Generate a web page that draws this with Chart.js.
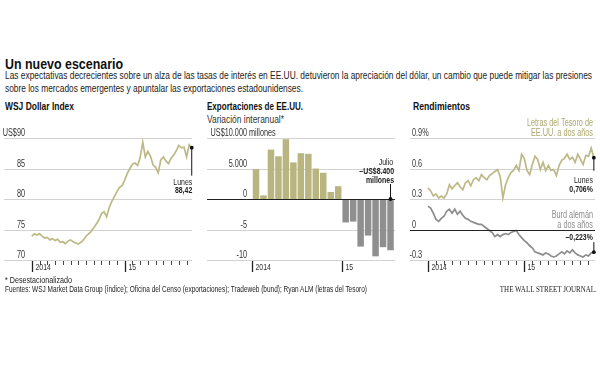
<!DOCTYPE html>
<html>
<head>
<meta charset="utf-8">
<script src="https://cdn.jsdelivr.net/npm/chart.js@4.4.1/dist/chart.umd.min.js"></script>
<style>
  body { margin: 0; width: 600px; height: 370px; position: relative; overflow: hidden; background: #fff;
         font-family: 'Liberation Sans Narrow', 'Liberation Sans', Arial, sans-serif; color: #222; }
  .t { position: absolute; white-space: nowrap; line-height: 1; transform-origin: left top; }
  #title { left: 5px; top: 56px; font-size: 15.5px; font-weight: bold; color: #111; }
  .sub { left: 5px; font-size: 10px; color: #222; }
  .ptitle { font-size: 11.5px; font-weight: bold; color: #111; top: 101px; }
  .note { left: 5px; font-size: 9px; color: #222; }
  #wsj { right: 3px; top: 285px; font-family: 'Liberation Serif', 'DejaVu Serif', serif; font-size: 9px; color: #222; transform-origin: right top; }
  canvas { position: absolute; top: 115px; }
</style>
</head>
<body>
<div class="t" id="title" data-w="118">Un nuevo escenario</div>
<div class="t sub" id="sub1" style="top:71px" data-w="587">Las expectativas decrecientes sobre un alza de las tasas de interés en EE.UU. detuvieron la apreciación del dólar, un cambio que puede mitigar las presiones</div>
<div class="t sub" id="sub2" style="top:83.5px" data-w="298">sobre los mercados emergentes y apuntalar las exportaciones estadounidenses.</div>

<div class="t ptitle" style="left:5px" data-w="69">WSJ Dollar Index</div>
<div class="t ptitle" style="left:207px" data-w="96">Exportaciones de EE.UU.</div>
<div class="t" style="left:207px; top:114.5px; font-size:10px; color:#333" data-w="77">Variación interanual*</div>
<div class="t ptitle" style="left:413px" data-w="57">Rendimientos</div>

<canvas id="dollarChart" width="200" height="165" style="left:0px"></canvas>
<canvas id="exportChart" width="200" height="165" style="left:200px"></canvas>
<canvas id="yieldChart" width="200" height="165" style="left:400px"></canvas>

<div class="t note" style="top:276px" data-w="67">* Desestacionalizado</div>
<div class="t note" style="top:285px" data-w="362">Fuentes: WSJ Market Data Group (índice); Oficina del Censo (exportaciones); Tradeweb (bund); Ryan ALM (letras del Tesoro)</div>
<div class="t" id="wsj" data-w="97">THE WALL STREET JOURNAL.</div>

<script>
// ========== 数据 ==========
const dates = [
  '2014-01-01', '2014-01-11', '2014-01-21', '2014-02-01', '2014-02-11', '2014-02-21',
  '2014-03-01', '2014-03-11', '2014-03-21', '2014-04-01', '2014-04-11', '2014-04-21',
  '2014-05-01', '2014-05-11', '2014-05-21', '2014-06-01', '2014-06-11', '2014-06-21',
  '2014-07-01', '2014-07-11', '2014-07-21', '2014-08-01', '2014-08-11', '2014-08-21',
  '2014-09-01', '2014-09-11', '2014-09-21', '2014-10-01', '2014-10-11', '2014-10-21',
  '2014-11-01', '2014-11-11', '2014-11-21', '2014-12-01', '2014-12-11', '2014-12-21',
  '2015-01-01', '2015-01-11', '2015-01-21', '2015-02-01', '2015-02-11', '2015-02-21',
  '2015-03-01', '2015-03-11', '2015-03-21', '2015-04-01', '2015-04-11', '2015-04-21',
  '2015-05-01', '2015-05-11', '2015-05-21', '2015-06-01', '2015-06-11', '2015-06-21',
  '2015-07-01', '2015-07-11', '2015-07-21', '2015-08-01', '2015-08-11', '2015-08-21',
  '2015-09-01', '2015-09-11', '2015-09-21'
];

const dollarIndex = [
  73.9, 74.3, 74.1, 74.3, 73.9, 73.6, 73.7, 73.3, 73.5, 73.2, 73.4, 72.9,
  73.0, 72.7, 73.1, 73.3, 73.0, 72.8, 72.6, 72.9, 73.3, 73.9, 74.3, 74.7,
  75.3, 75.9, 76.6, 77.6, 77.9, 77.1, 78.6, 79.6, 80.4, 81.2, 81.9, 82.2,
  83.1, 84.2, 85.0, 85.7, 85.9, 85.5, 86.8, 89.3, 86.9, 87.8, 87.0, 85.6,
  85.2, 84.3, 86.4, 86.9, 86.2, 85.8, 86.7, 87.2, 87.9, 88.8, 88.4, 88.5,
  86.9, 88.9, 88.42
];

const exportMonths = [
  '2014-01', '2014-02', '2014-03', '2014-04', '2014-05', '2014-06', '2014-07', '2014-08',
  '2014-09', '2014-10', '2014-11', '2014-12', '2015-01', '2015-02', '2015-03', '2015-04',
  '2015-05', '2015-06', '2015-07'
];
const exportChange = [
  4900, 600, 8100, 7000, 9800, 6000, 7500, 7400, 5000, 4300, 1150, 2100,
  -3850, -3700, -7800, -6000, -9400, -7900, -8400
];

const treasury2y = [
  0.41, 0.38, 0.33, 0.35, 0.31, 0.33, 0.31, 0.35, 0.44, 0.40, 0.43, 0.46,
  0.42, 0.39, 0.46, 0.48, 0.43, 0.49, 0.51, 0.48, 0.54, 0.51, 0.49, 0.53,
  0.55, 0.57, 0.59, 0.52, 0.31, 0.44, 0.51, 0.56, 0.58, 0.63, 0.58, 0.74,
  0.70, 0.58, 0.54, 0.64, 0.72, 0.69, 0.59, 0.66, 0.58, 0.63, 0.58, 0.59,
  0.53, 0.63, 0.68, 0.70, 0.74, 0.69, 0.71, 0.66, 0.74, 0.69, 0.64, 0.73,
  0.72, 0.80, 0.706
];
const bund2y = [
  0.23, 0.21, 0.16, 0.10, 0.08, 0.11, 0.13, 0.18, 0.20, 0.16, 0.20, 0.15,
  0.18, 0.14, 0.11, 0.10, 0.08, 0.07, 0.06, 0.05, 0.05, 0.03, 0.01, -0.01,
  -0.03, -0.07, -0.05, -0.07, -0.05, -0.04, -0.05, -0.03, -0.02, -0.01, -0.05, -0.08,
  -0.11, -0.13, -0.16, -0.18, -0.22, -0.23, -0.24, -0.25, -0.23, -0.24, -0.26, -0.27,
  -0.26, -0.24, -0.22, -0.24, -0.21, -0.23, -0.20, -0.23, -0.25, -0.26, -0.27, -0.25,
  -0.26, -0.23, -0.223
];

// 刻度
const dollarTicks = [70, 75, 80, 85, 90];
const dollarTickLabels = ['70', '75', '80', '85', '90'];
const exportTicks = [-10000, -5000, 0, 5000, 10000];
const exportTickLabels = ['-10', '-5', '0', '5.000', '10.000'];
const yieldTicks = [-0.3, 0, 0.3, 0.6, 0.9];
const yieldTickLabels = ['-0.3', '0', '0.3', '0.6', '0.9'];
const yearTicks = [0, 12];
const yearTickLabels = ['2014', '15'];
const monthTicks = [1, 2, 3, 4, 5, 6, 7, 8, 9, 10, 11, 13, 14, 15, 16, 17, 18, 19, 20];

// ========== 样式 ==========
const FONT = "'Liberation Sans Narrow','Liberation Sans',Arial,sans-serif";
const OLIVE = '#bdb986';
const OLIVE_BAR = '#b9b580';
const OLIVE_TEXT = '#aca86e';
const GRAY = '#8d8d8d';
const GRAY_BAR = '#8f8f8f';
const GRID = '#d2d2d2';
const DARK = '#222';

// 文字横向压缩（原图为窄体字）
document.querySelectorAll('[data-w]').forEach(el => {
  const w = el.getBoundingClientRect().width;
  el.style.transform = 'scaleX(' + (Number(el.dataset.w) / w) + ')';
});
const probe = document.createElement('canvas').getContext('2d');
probe.font = '10px ' + FONT;
const K = 62 / probe.measureText('EE.UU. a dos años').width;

function toMonth(d) {
  const p = d.split('-').map(Number);
  return (p[0] - 2014) * 12 + (p[1] - 1) + ((p[2] || 1) - 1) / 30;
}
const monthPos = dates.map(toMonth);

function points(values) {
  return values.map((v, i) => ({ x: monthPos[i], y: v }));
}

function hline(ctx, x1, x2, y, color, w) {
  ctx.strokeStyle = color;
  ctx.lineWidth = w;
  ctx.beginPath();
  ctx.moveTo(x1, y);
  ctx.lineTo(x2, y);
  ctx.stroke();
}
function vline(ctx, x, y1, y2, color, w) {
  ctx.strokeStyle = color;
  ctx.lineWidth = w;
  ctx.beginPath();
  ctx.moveTo(x, y1);
  ctx.lineTo(x, y2);
  ctx.stroke();
}
function dot(ctx, x, y) {
  ctx.fillStyle = '#111';
  ctx.beginPath();
  ctx.arc(x, y, 1.9, 0, Math.PI * 2);
  ctx.fill();
}
function setFont(ctx, bold, size) {
  ctx.font = (bold ? 'bold ' : '') + size + 'px ' + FONT;
}
function textWidth(ctx, s, bold, size) {
  setFont(ctx, bold, size);
  return ctx.measureText(s).width * K;
}
function text(ctx, s, x, y, align, color, bold, size) {
  ctx.save();
  setFont(ctx, bold, size || 9);
  ctx.fillStyle = color || DARK;
  ctx.textAlign = align || 'left';
  ctx.textBaseline = 'alphabetic';
  ctx.translate(x, y);
  ctx.scale(K, 1);
  ctx.fillText(s, 0, 0);
  ctx.restore();
}

// ========== 通用面板插件 ==========
function panelPlugin(cfg) {
  return {
    id: 'panel',
    beforeDatasetsDraw(chart) {
      const ctx = chart.ctx;
      const a = chart.chartArea;
      const y = chart.scales.y;
      ctx.save();
      cfg.ticks.forEach(v => {
        if (v === cfg.zero) return;
        const py = Math.round(y.getPixelForValue(v)) + 0.5;
        hline(ctx, a.left, a.right, py, GRID, 1);
      });
      ctx.restore();
    },
    afterDatasetsDraw(chart) {
      const ctx = chart.ctx;
      const a = chart.chartArea;
      const x = chart.scales.x;
      const y = chart.scales.y;
      ctx.save();

      // 零线
      if (cfg.zero !== undefined) {
        const pz = Math.round(y.getPixelForValue(cfg.zero)) + 0.5;
        hline(ctx, a.left, a.right, pz, DARK, 1.2);
      }

      // 纵轴标签（写在网格线上方）
      cfg.ticks.forEach((v, i) => {
        const label = cfg.labels[i];
        const py = y.getPixelForValue(v) - 2;
        const top = i === cfg.ticks.length - 1;
        const w = textWidth(ctx, label, false, 10);
        if (cfg.align === 'right') {
          text(ctx, label, cfg.labelX, py, 'right', '#333', false, 10);
          if (top && cfg.prefix) text(ctx, cfg.prefix, cfg.labelX - w, py, 'right', '#333', false, 10);
          if (top && cfg.suffix) text(ctx, cfg.suffix, cfg.labelX, py, 'left', '#333', false, 10);
        } else {
          const shift = label.charAt(0) === '-' ? textWidth(ctx, '-', false, 10) : 0;
          text(ctx, label, cfg.labelX - shift, py, 'left', '#333', false, 10);
          if (top && cfg.suffix) text(ctx, cfg.suffix, cfg.labelX + w, py, 'left', '#333', false, 10);
        }
      });

      // 横轴刻度
      const base = a.bottom;
      if (cfg.minor) {
        cfg.minor.forEach(m => {
          const px = Math.round(x.getPixelForValue(m)) + 0.5;
          vline(ctx, px, base + 1, base + 5, '#444', 1);
        });
      }
      yearTicks.forEach((m, i) => {
        const px = Math.round(x.getPixelForValue(m)) + 0.5;
        vline(ctx, px, base + 1, base + 12, DARK, 1.3);
        text(ctx, yearTickLabels[i], px + 3, base + 10, 'left', '#333', false, 9.5);
      });

      if (cfg.notes) cfg.notes(chart, ctx);
      ctx.restore();
    }
  };
}

function baseOptions(xMin, xMax, yMin, yMax, pad) {
  return {
    responsive: false,
    animation: false,
    events: [],
    layout: { padding: pad },
    plugins: { legend: { display: false }, tooltip: { enabled: false } },
    scales: {
      x: { type: 'linear', display: false, offset: false, min: xMin, max: xMax },
      y: { type: 'linear', display: false, min: yMin, max: yMax }
    }
  };
}

// ========== WSJ Dollar Index ==========
new Chart(document.getElementById('dollarChart'), {
  type: 'line',
  data: {
    datasets: [{
      data: points(dollarIndex),
      borderColor: OLIVE,
      borderWidth: 1.7,
      pointRadius: 0,
      tension: 0
    }]
  },
  options: baseOptions(-3.6, 20.7, 70, 90, { left: 4, right: 8, top: 23, bottom: 20 }),
  plugins: [panelPlugin({
    ticks: dollarTicks, labels: dollarTickLabels, align: 'right', labelX: 25, prefix: 'US$',
    minor: monthTicks,
    notes(chart, ctx) {
      const i = dollarIndex.length - 1;
      const px = chart.scales.x.getPixelForValue(monthPos[i]);
      const py = chart.scales.y.getPixelForValue(dollarIndex[i]);
      vline(ctx, px, py, py + 28, '#111', 1);
      dot(ctx, px, py);
      text(ctx, 'Lunes', px + 0.5, py + 37.5, 'right', DARK, false, 9.5);
      text(ctx, '88,42', px + 0.5, py + 45.5, 'right', DARK, true, 9.5);
    }
  })]
});

// ========== Exportaciones ==========
new Chart(document.getElementById('exportChart'), {
  type: 'bar',
  data: {
    datasets: [{
      data: exportMonths.map((m, i) => ({ x: toMonth(m) + 0.5, y: exportChange[i] })),
      backgroundColor: exportChange.map(v => v >= 0 ? OLIVE_BAR : GRAY_BAR),
      barPercentage: 1,
      categoryPercentage: 0.87
    }]
  },
  options: baseOptions(-6.06, 19.1, -10000, 10000, { left: 7, right: 5, top: 23, bottom: 20 }),
  plugins: [panelPlugin({
    ticks: exportTicks, labels: exportTickLabels, align: 'right', labelX: 47,
    prefix: 'US$', suffix: ' millones', zero: 0,
    notes(chart, ctx) {
      const i = exportChange.length - 1;
      const px = chart.scales.x.getPixelForValue(toMonth(exportMonths[i]) + 0.5);
      const pz = chart.scales.y.getPixelForValue(0);
      vline(ctx, px, pz - 15, pz, '#111', 1);
      dot(ctx, px, pz);
      text(ctx, 'Julio', px + 2.5, pz - 34, 'right', DARK, false, 9.5);
      text(ctx, '–US$8.400', px + 3.5, pz - 25.5, 'right', DARK, true, 9.5);
      text(ctx, 'millones', px + 3.5, pz - 16.5, 'right', DARK, true, 9.5);
    }
  })]
});

// ========== Rendimientos ==========
new Chart(document.getElementById('yieldChart'), {
  type: 'line',
  data: {
    datasets: [
      { data: points(treasury2y), borderColor: OLIVE, borderWidth: 1.7, pointRadius: 0, tension: 0 },
      { data: points(bund2y), borderColor: GRAY, borderWidth: 1.7, pointRadius: 0, tension: 0 }
    ]
  },
  options: baseOptions(-2.24, 20.81, -0.3, 0.9, { left: 10, right: 5, top: 23, bottom: 20 }),
  plugins: [panelPlugin({
    ticks: yieldTicks, labels: yieldTickLabels, align: 'left', labelX: 12, suffix: '%', zero: 0,
    minor: monthTicks,
    notes(chart, ctx) {
      const a = chart.chartArea;
      const xs = chart.scales.x, ys = chart.scales.y;
      const i = treasury2y.length - 1;
      const px = xs.getPixelForValue(monthPos[i]);
      const pt = ys.getPixelForValue(treasury2y[i]);
      const pb = ys.getPixelForValue(bund2y[i]);
      const pz = ys.getPixelForValue(0);

      text(ctx, 'Letras del Tesoro de', a.right - 2, a.top - 12, 'right', OLIVE_TEXT, false, 10);
      text(ctx, 'EE.UU. a dos años', a.right - 2, a.top - 2, 'right', OLIVE_TEXT, false, 10);

      vline(ctx, px, pt, pt + 13, '#111', 1);
      dot(ctx, px, pt);
      text(ctx, 'Lunes', px - 1, pt + 25, 'right', DARK, false, 9.5);
      text(ctx, '0,706%', px - 1, pt + 34, 'right', DARK, true, 9.5);

      text(ctx, 'Burd alemán', a.right - 2, pz - 12, 'right', GRAY, false, 10);
      text(ctx, 'a dos años', a.right - 2, pz - 2, 'right', GRAY, false, 10);

      text(ctx, '–0,223%', px - 1, pb - 12.5, 'right', DARK, true, 9.5);
      vline(ctx, px, pb - 10, pb, '#111', 1);
      dot(ctx, px, pb);
    }
  })]
});
</script>
</body>
</html>
